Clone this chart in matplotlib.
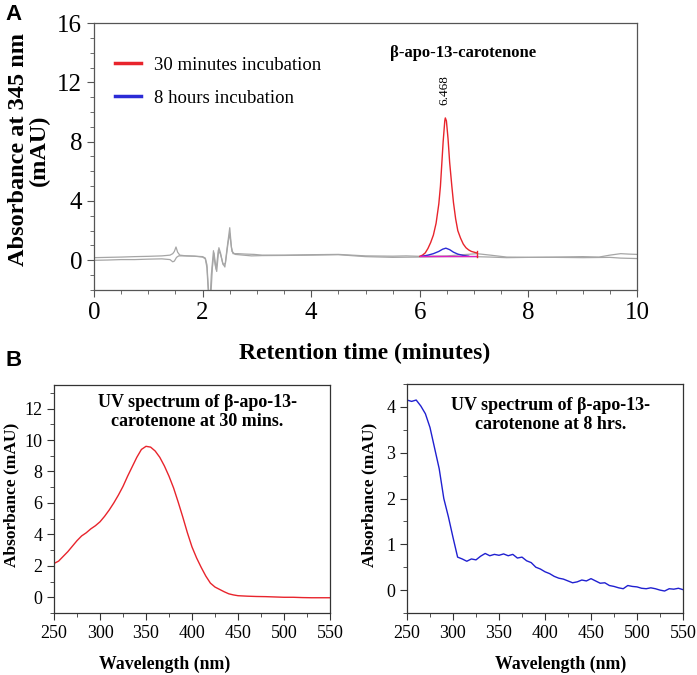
import matplotlib
matplotlib.use('Agg')
import matplotlib.pyplot as plt
from matplotlib.lines import Line2D
from matplotlib.ticker import MultipleLocator

plt.rcParams['font.family'] = ['Liberation Serif', 'DejaVu Serif']

# --- panel A: chromatogram (retention time, mAU) ---
trace1_t = [0, 0.25, 0.5, 0.75, 1.0, 1.25, 1.40, 1.45, 1.48, 1.51, 1.54, 1.58, 1.7, 1.85, 2.0,
            2.05, 2.08, 2.10, 2.12, 2.14, 2.16, 2.20, 2.23, 2.26, 2.30, 2.33, 2.37, 2.41, 2.45,
            2.50, 2.53, 2.56, 2.65, 2.8, 2.95, 3.1, 3.5, 4.0, 4.5, 5.0, 5.5, 5.75, 6.0, 6.5,
            7.05, 7.3, 7.6, 8.0, 8.5, 9.0, 9.3, 9.5, 9.7, 9.85, 10.0]
trace1_y = [0.18, 0.2, 0.22, 0.25, 0.27, 0.3, 0.35, 0.45, 0.6, 0.9, 0.55, 0.35, 0.3, 0.28, 0.25,
            0.15, -0.3, -1.5, -2.5, -2.5, -1.0, 0.65, -0.3, -0.75, 0.85, 0.5, -0.2, -0.45, 0.8,
            2.2, 0.9, 0.45, 0.45, 0.42, 0.4, 0.35, 0.35, 0.38, 0.4, 0.3, 0.28, 0.3, 0.27, 0.3,
            0.45, 0.35, 0.22, 0.2, 0.22, 0.25, 0.22, 0.35, 0.45, 0.42, 0.4]
trace2_t = [0, 0.25, 0.5, 0.75, 1.0, 1.25, 1.40, 1.45, 1.48, 1.52, 1.56, 1.7, 1.85, 2.0, 2.05,
            2.08, 2.11, 2.15, 2.18, 2.21, 2.25, 2.29, 2.33, 2.38, 2.42, 2.47, 2.50, 2.54, 2.6,
            2.75, 2.9, 3.1, 3.5, 4.0, 4.5, 5.0, 5.5, 6.0, 6.5, 7.0, 7.3, 7.6, 8.0, 8.5, 9.0,
            9.5, 9.7, 10.0]
trace2_y = [0.0, 0.02, 0.05, 0.05, 0.08, 0.1, 0.05, -0.1, -0.05, 0.2, 0.3, 0.3, 0.28, 0.22, 0.1,
            -0.5, -2.5, -2.5, -0.5, 0.5, -0.6, 0.7, 0.4, -0.3, -0.2, 1.2, 1.8, 0.6, 0.4,
            0.35, 0.3, 0.32, 0.33, 0.35, 0.38, 0.25, 0.2, 0.22, 0.25, 0.25, 0.22, 0.18, 0.2, 0.2, 0.18,
            0.2, 0.15, 0.12]

peak30_t = [6.00, 6.05, 6.10, 6.15, 6.20, 6.25, 6.30, 6.35, 6.38, 6.40, 6.43, 6.46, 6.47, 6.49,
            6.52, 6.55, 6.59, 6.62, 6.66, 6.70, 6.75, 6.80, 6.85, 6.90, 6.95, 7.00, 7.05]
peak30_y = [0.27, 0.35, 0.5, 0.8, 1.2, 1.7, 2.5, 3.8, 5.0, 6.2, 8.0, 9.4, 9.6, 9.4,
            8.2, 6.6, 5.0, 3.9, 2.8, 2.0, 1.5, 1.1, 0.85, 0.7, 0.6, 0.55, 0.5]
peak8h_t = [6.05, 6.15, 6.25, 6.35, 6.42, 6.48, 6.55, 6.62, 6.70, 6.80, 6.90]
peak8h_y = [0.28, 0.35, 0.45, 0.6, 0.75, 0.82, 0.72, 0.55, 0.42, 0.33, 0.28]
baseline_t = [6.0, 7.05]
baseline_y = [0.27, 0.27]

# --- panel B: UV spectra ---
wl_30 = [250, 255, 260, 265, 270, 275, 280, 285, 290, 295, 300, 305, 310, 315, 320, 325, 330,
         335, 340, 345, 350, 355, 360, 365, 370, 375, 380, 385, 390, 395, 400, 405, 410, 415,
         420, 425, 430, 435, 440, 445, 450, 460, 470, 480, 490, 500, 510, 520, 530, 540, 550]
abs_30 = [2.15, 2.3, 2.6, 2.9, 3.25, 3.6, 3.9, 4.1, 4.35, 4.55, 4.8, 5.15, 5.55, 6.0, 6.5, 7.05, 7.7,
          8.3, 8.9, 9.4, 9.6, 9.55, 9.3, 8.9, 8.35, 7.7, 6.95, 6.05, 5.1, 4.1, 3.2, 2.5, 1.9, 1.35,
          0.9, 0.65, 0.5, 0.35, 0.22, 0.15, 0.1, 0.07, 0.05, 0.04, 0.02, 0.0, 0.0, -0.02, -0.03, -0.03, -0.03]
wl_8h = list(range(250, 551, 5))
abs_8h = [4.15, 4.12, 4.15, 4.02, 3.85, 3.55, 3.1, 2.65, 2.0, 1.6, 1.15, 0.72, 0.68, 0.63, 0.68,
          0.66, 0.74, 0.80, 0.75, 0.78, 0.76, 0.79, 0.75, 0.78, 0.70, 0.72, 0.64, 0.60, 0.50, 0.46,
          0.40, 0.36, 0.30, 0.26, 0.24, 0.20, 0.16, 0.18, 0.22, 0.20, 0.25, 0.20, 0.15, 0.16, 0.10,
          0.08, 0.05, 0.03, 0.10, 0.08, 0.07, 0.04, 0.03, 0.05, 0.03, 0.00, -0.02, 0.03, 0.02, 0.04, 0.01]

W, H = 697, 675
fig = plt.figure(figsize=(W / 100, H / 100), dpi=100)


def px_axes(left, top, right, bottom):
    return fig.add_axes([left / W, 1 - bottom / H, (right - left) / W, (bottom - top) / H])


def style_axes(ax, size, color='#333333'):
    for s in ax.spines.values():
        s.set_color(color)
        s.set_linewidth(0.9)
    ax.tick_params(which='both', direction='out', colors=color, labelcolor='black', labelsize=size)
    ax.tick_params(which='major', length=5)
    ax.tick_params(which='minor', length=3)


# panel A
ax = px_axes(94, 23, 637, 290)
ax.plot(trace1_t, trace1_y, color='#a6a6a6', lw=0.9)
ax.plot(trace2_t, trace2_y, color='#a6a6a6', lw=0.9)
ax.plot(peak30_t, peak30_y, color='#e8242c', lw=1.0)
ax.plot(peak8h_t, peak8h_y, color='#2b2bd6', lw=1.0)
ax.plot(baseline_t, baseline_y, color='#e020c0', lw=1.0)
ax.plot([7.05, 7.05], [0.2, 0.65], color='#e8242c', lw=1.0)
ax.set_xlim(0, 10)
ax.set_ylim(-2, 16)
ax.xaxis.set_major_locator(MultipleLocator(2))
ax.xaxis.set_minor_locator(MultipleLocator(0.5))
ax.yaxis.set_major_locator(MultipleLocator(4))
ax.yaxis.set_minor_locator(MultipleLocator(1))
style_axes(ax, 18, '#555555')
ax.text(6.79, 14.0, 'β-apo-13-carotenone', fontsize=12, fontweight='bold',
        ha='center', va='center')
ax.text(6.46, 11.45, '6.468', fontsize=9.5, rotation=90, ha='center', va='center')
handles = [Line2D([], [], color='#e8242c', lw=2.5), Line2D([], [], color='#2b2bd6', lw=2.5)]
ax.legend(handles, ['30 minutes incubation', '8 hours incubation'], loc='upper left',
          bbox_to_anchor=(0.039, 0.875), frameon=False, fontsize=13.5, borderpad=0,
          borderaxespad=0, handlelength=1.4, handletextpad=0.65, labelspacing=0.85)

fig.text(29 / W, 1 - 150 / H, 'Absorbance at 345 nm\n(mAU)', rotation=90, fontsize=17.5,
         fontweight='bold', ha='center', va='center', multialignment='center', linespacing=1.0)
fig.text(365 / W, 1 - 353 / H, 'Retention time (minutes)', fontsize=17, fontweight='bold',
         ha='center', va='center')
fig.text(14 / W, 1 - 14 / H, 'A', fontsize=16, fontweight='bold', family='Liberation Sans',
         ha='center', va='center')
fig.text(14 / W, 1 - 361 / H, 'B', fontsize=16, fontweight='bold', family='Liberation Sans',
         ha='center', va='center')

# panel B left
axl = px_axes(54, 385, 330, 613)
axl.plot(wl_30, abs_30, color='#e8242c', lw=1.0)
axl.set_xlim(250, 550)
axl.set_ylim(-1, 13.5)
axl.xaxis.set_major_locator(MultipleLocator(50))
axl.xaxis.set_minor_locator(MultipleLocator(25))
axl.yaxis.set_major_locator(MultipleLocator(2))
axl.yaxis.set_minor_locator(MultipleLocator(1))
style_axes(axl, 13)
axl.text(0.52, 0.88, 'UV spectrum of β-apo-13-\ncarotenone at 30 mins.', transform=axl.transAxes,
         fontsize=13, fontweight='bold', ha='center', va='center', linespacing=1.15)

# panel B right
axr = px_axes(407, 384, 683, 613)
axr.plot(wl_8h, abs_8h, color='#2020d0', lw=1.0)
axr.set_xlim(250, 550)
axr.set_ylim(-0.5, 4.5)
axr.xaxis.set_major_locator(MultipleLocator(50))
axr.xaxis.set_minor_locator(MultipleLocator(25))
axr.yaxis.set_major_locator(MultipleLocator(1))
axr.yaxis.set_minor_locator(MultipleLocator(0.5))
style_axes(axr, 13)
axr.text(0.52, 0.865, 'UV spectrum of β-apo-13-\ncarotenone at 8 hrs.', transform=axr.transAxes,
         fontsize=13, fontweight='bold', ha='center', va='center', linespacing=1.15)

for x, y in [(11, 495), (369, 495)]:
    fig.text(x / W, 1 - y / H, 'Absorbance (mAU)', rotation=90, fontsize=12.5, fontweight='bold',
             ha='center', va='center')
for x in (165, 561):
    fig.text(x / W, 1 - 664 / H, 'Wavelength (nm)', fontsize=12.8, fontweight='bold',
             ha='center', va='center')

fig.savefig('out.png', dpi=100)
